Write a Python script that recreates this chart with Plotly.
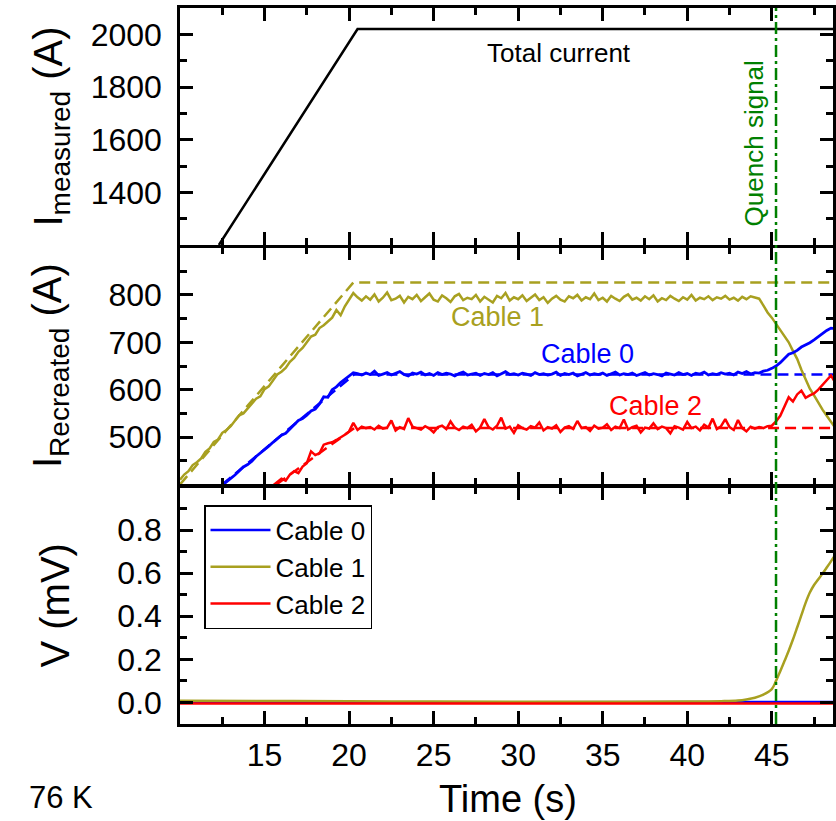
import plotly.graph_objects as go
from plotly.subplots import make_subplots

# ---------------- data ----------------
# total measured current (top panel)
t_total = [12.3, 20.5, 48.75]
i_total = [1200, 2020, 2020]

# common time base of recreated currents (s), 0.25 s sampling
t_rec = [round(10 + 0.25 * k, 2) for k in range(156)]

cable1_rec = [
    410, 421, 428, 441, 447, 455, 469, 476, 490, 495, 509, 515, 523, 535, 546, 550,
    560, 571, 581, 586, 601, 607, 620, 632, 638, 646, 659, 667, 680, 688, 700, 712,
    716, 730, 736, 745, 752, 768, 757, 776, 790, 804,
    795, 788, 797, 790, 801, 786, 794, 805, 789, 792, 798, 784, 796, 791, 800, 787,
    795, 803, 790, 786, 799, 793, 785, 797, 802, 789, 794, 791, 800, 786, 796, 790,
    784, 798, 793, 804, 788, 795, 791, 799, 787, 794, 801, 789, 795, 783, 792, 798,
    790, 786, 797, 793, 800, 788, 795, 791, 803, 789, 794, 786, 798, 792, 787, 796,
    801, 790, 794, 788, 797, 791, 799, 786, 793, 789, 798, 792, 787, 795, 790, 800,
    788, 794, 791, 797, 789, 795, 792, 798, 790, 794, 788, 796, 791, 797, 795,
    792, 778, 763, 752, 739, 728, 714, 700, 682, 665, 642, 620, 602, 588, 572, 558,
    545, 532, 520,
]

cable0_rec = [
    322, 330, 337, 345, 354, 360, 369, 377, 384, 391, 399, 406, 413, 420, 428, 437,
    442, 449, 459, 466, 472, 481, 489, 497, 504, 508, 518, 526, 535, 539, 546, 555,
    559, 570, 585, 584, 600, 606, 615, 622, 630, 636,
    634, 631, 635, 632, 639, 630, 633, 636, 631, 634, 638, 632, 629, 635, 633, 637,
    631, 634, 630, 636, 632, 635, 633, 629, 634, 637, 631, 633, 635, 630, 634, 632,
    636, 629, 633, 638, 632, 634, 631, 635, 633, 630, 636, 632, 634, 631, 633, 637,
    630, 634, 632, 635, 629, 633, 636, 631, 634, 632, 635, 630, 633, 637, 631, 634,
    632, 635, 630, 633, 636, 631, 634, 632, 629, 635, 633, 631, 636, 632, 634, 630,
    635, 633, 637, 631, 634, 632, 636, 633, 635, 631, 637, 634, 638, 633, 636,
    635, 639, 641, 645, 650, 657, 666, 675, 678, 683, 690, 694, 699, 705, 712, 718,
    725, 730, 729,
]

cable2_rec = [
    250, 257, 264, 270, 277, 284, 290, 297, 304, 311, 317, 324, 331, 338, 344, 351,
    358, 365, 371, 378, 385, 392, 398, 405, 412, 408, 421, 428, 424, 438, 445, 470,
    462, 466, 484, 487, 489, 494, 499, 505, 512, 530,
    515, 522, 519, 521, 516, 524, 518, 520, 535, 514, 521, 517, 540, 522, 519, 516,
    523, 518, 510, 521, 524, 517, 533, 520, 515, 522, 519, 526, 512, 520, 538, 521,
    516, 524, 541, 518, 522, 509, 525, 519, 516, 523, 520, 531, 514, 521, 518, 525,
    511, 520, 523, 517, 534, 519, 521, 513, 524, 518, 520, 527, 515, 522, 519, 537,
    516, 521, 524, 510, 520, 518, 529, 517, 522, 519, 508, 523, 520, 516, 532, 519,
    522, 514, 526, 520, 539, 517, 523, 538, 521, 515, 536, 519, 512, 522, 518,
    521, 519, 523, 524, 533, 545, 565, 584, 575, 590, 598, 583, 588, 592, 600, 610,
    620, 630, 615,
]

# predicted (dashed) currents
t_pred1 = [10.0, 20.25, 48.75]
cable1_pred = [400, 826, 826]
t_pred0 = [12.5, 20.3, 48.75]
cable0_pred = [400, 632, 632]
t_pred2 = [15.7, 20.3, 48.75]
cable2_pred = [400, 519, 519]

# voltages (bottom panel)
t_v = [10, 15, 20, 25, 30, 35, 40, 42, 43, 43.5, 44, 44.5, 45, 45.25, 45.5, 45.75,
       46, 46.25, 46.5, 46.75, 47, 47.25, 47.5, 47.75, 48, 48.25, 48.5, 48.75]
v_cable0 = [0.001, 0.001, 0.001, 0.000, 0.000, 0.000, 0.001, 0.001, 0.001, 0.001,
            0.002, 0.002, 0.002, 0.002, 0.002, 0.002, 0.002, 0.002, 0.002, 0.002,
            0.002, 0.002, 0.002, 0.002, 0.002, 0.002, 0.002, 0.002]
v_cable1 = [0.008, 0.007, 0.006, 0.004, 0.003, 0.003, 0.004, 0.006, 0.009, 0.014,
            0.022, 0.036, 0.062, 0.100, 0.145, 0.192, 0.240, 0.292, 0.348, 0.405,
            0.462, 0.510, 0.545, 0.572, 0.598, 0.626, 0.655, 0.685]
v_cable2 = [-0.005, -0.005, -0.005, -0.006, -0.005, -0.005, -0.005, -0.005, -0.005,
            -0.005, -0.005, -0.005, -0.005, -0.005, -0.005, -0.005, -0.005, -0.005,
            -0.005, -0.005, -0.005, -0.005, -0.005, -0.005, -0.005, -0.005, -0.005,
            -0.005]

t_quench = 45.25

x_ticks = [15, 20, 25, 30, 35, 40, 45]
x_minor = [10, 12.5, 17.5, 22.5, 27.5, 32.5, 37.5, 42.5, 47.5]
y1_ticks = [1400, 1600, 1800, 2000]
y1_minor = [1300, 1500, 1700, 1900]
y2_ticks = [500, 600, 700, 800]
y2_minor = [450, 550, 650, 750, 850]
y3_ticks = [0.0, 0.2, 0.4, 0.6, 0.8]
y3_minor = [0.1, 0.3, 0.5, 0.7, 0.9]

# ---------------- styles ----------------
BLUE = "#0000FF"
OLIVE = "#A8A020"
RED = "#FF0000"
GREEN = "#008000"
FONT = "Liberation Sans, Arial, sans-serif"
LW = 2.5
PLOT_H = 821 - 8 - 97

fig = make_subplots(rows=3, cols=1, shared_xaxes=True, vertical_spacing=LW / PLOT_H)

fig.add_trace(go.Scatter(x=t_total, y=i_total, mode="lines",
                         line=dict(color="black", width=2.5), showlegend=False),
              row=1, col=1)

dash = "11px,6px"
fig.add_trace(go.Scatter(x=t_pred1, y=cable1_pred, mode="lines",
                         line=dict(color=OLIVE, width=2.5, dash=dash), showlegend=False), row=2, col=1)
fig.add_trace(go.Scatter(x=t_pred0, y=cable0_pred, mode="lines",
                         line=dict(color=BLUE, width=2.5, dash=dash), showlegend=False), row=2, col=1)
fig.add_trace(go.Scatter(x=t_pred2, y=cable2_pred, mode="lines",
                         line=dict(color=RED, width=2.5, dash=dash), showlegend=False), row=2, col=1)
fig.add_trace(go.Scatter(x=t_rec, y=cable1_rec, mode="lines",
                         line=dict(color=OLIVE, width=2.5), showlegend=False), row=2, col=1)
fig.add_trace(go.Scatter(x=t_rec, y=cable0_rec, mode="lines",
                         line=dict(color=BLUE, width=2.8), showlegend=False), row=2, col=1)
fig.add_trace(go.Scatter(x=t_rec, y=cable2_rec, mode="lines",
                         line=dict(color=RED, width=2.5), showlegend=False), row=2, col=1)

fig.add_trace(go.Scatter(x=t_v, y=v_cable0, mode="lines", name="Cable 0",
                         line=dict(color=BLUE, width=2.5)), row=3, col=1)
fig.add_trace(go.Scatter(x=t_v, y=v_cable1, mode="lines", name="Cable 1",
                         line=dict(color=OLIVE, width=2.5, shape="spline")), row=3, col=1)
fig.add_trace(go.Scatter(x=t_v, y=v_cable2, mode="lines", name="Cable 2",
                         line=dict(color=RED, width=2.5)), row=3, col=1)

axis_common = dict(showline=True, linecolor="black", linewidth=LW, mirror="ticks",
                   ticks="inside", ticklen=13, tickwidth=2.5, tickcolor="black",
                   showgrid=False, zeroline=False, automargin=False,
                   tickfont=dict(family=FONT, size=32, color="black"))
minor_common = dict(ticks="inside", ticklen=7, tickwidth=2.5, tickcolor="black", showgrid=False)

for r in (1, 2, 3):
    fig.update_xaxes(range=[10, 48.62], tickmode="array", tickvals=x_ticks,
                     minor=dict(tickmode="array", tickvals=x_minor, **minor_common),
                     ticklabelstandoff=1, row=r, col=1, **axis_common)

fig.update_yaxes(range=[1200, 2100], tickmode="array", tickvals=y1_ticks,
                 minor=dict(tickmode="array", tickvals=y1_minor, **minor_common),
                 ticklabelstandoff=9, row=1, col=1, **axis_common)
fig.update_yaxes(range=[400, 900], tickmode="array", tickvals=y2_ticks,
                 minor=dict(tickmode="array", tickvals=y2_minor, **minor_common),
                 ticklabelstandoff=9, row=2, col=1, **axis_common)
fig.update_yaxes(range=[-0.1, 1.0], tickmode="array", tickvals=y3_ticks, tickformat=".1f",
                 minor=dict(tickmode="array", tickvals=y3_minor, **minor_common),
                 ticklabelstandoff=9, row=3, col=1, **axis_common)

# quench signal line through all panels
fig.add_shape(type="line", xref="x3", yref="paper", x0=t_quench, x1=t_quench, y0=0, y1=1,
              line=dict(color=GREEN, width=2.5, dash="12px,4px,3px,4px"), layer="above")

ann = []
ytitle_x = (50 - 180) / 653
ann.append(dict(text="I<sub>measured</sub> (A)", xref="paper", yref="y domain", x=ytitle_x, y=0.5,
                textangle=-90, showarrow=False, xanchor="center", yanchor="middle",
                font=dict(family=FONT, size=40, color="black")))
ann.append(dict(text="I<sub>Recreated</sub> (A)", xref="paper", yref="y2 domain", x=ytitle_x, y=0.5,
                textangle=-90, showarrow=False, xanchor="center", yanchor="middle",
                font=dict(family=FONT, size=40, color="black")))
ann.append(dict(text="V (mV)", xref="paper", yref="y3 domain", x=(54 - 180) / 653, y=0.5,
                textangle=-90, showarrow=False, xanchor="center", yanchor="middle",
                font=dict(family=FONT, size=40, color="black")))
ann.append(dict(text="Time (s)", xref="paper", yref="paper", x=(508 - 180) / 653, y=(724 - 799) / PLOT_H,
                showarrow=False, xanchor="center", yanchor="middle",
                font=dict(family=FONT, size=38, color="black")))
ann.append(dict(text="76 K", xref="paper", yref="paper", x=(27 - 180) / 653, y=(724 - 797) / PLOT_H,
                showarrow=False, xanchor="left", yanchor="middle",
                font=dict(family=FONT, size=31, color="black")))
ann.append(dict(text="Total current", xref="x", yref="y", x=32.4, y=1931,
                showarrow=False, xanchor="center", yanchor="middle",
                font=dict(family=FONT, size=26, color="black")))
ann.append(dict(text="Quench signal", xref="x", yref="y", x=43.95, y=1586, textangle=-90,
                showarrow=False, xanchor="center", yanchor="middle",
                font=dict(family=FONT, size=26, color=GREEN)))
ann.append(dict(text="Cable 1", xref="x2", yref="y2", x=28.8, y=754,
                showarrow=False, xanchor="center", yanchor="middle",
                font=dict(family=FONT, size=27, color=OLIVE)))
ann.append(dict(text="Cable 0", xref="x2", yref="y2", x=34.1, y=676,
                showarrow=False, xanchor="center", yanchor="middle",
                font=dict(family=FONT, size=27, color=BLUE)))
ann.append(dict(text="Cable 2", xref="x2", yref="y2", x=38.1, y=565,
                showarrow=False, xanchor="center", yanchor="middle",
                font=dict(family=FONT, size=27, color=RED)))

fig.update_layout(
    width=836, height=821,
    margin=dict(l=180, r=3, t=8, b=97),
    paper_bgcolor="white", plot_bgcolor="white",
    annotations=ann,
    showlegend=True,
    legend=dict(x=(204 - 180) / 653, y=(724 - 505) / PLOT_H, xanchor="left", yanchor="top",
                bgcolor="white", bordercolor="black", borderwidth=1.5,
                font=dict(family=FONT, size=26, color="black"),
                itemwidth=60, tracegroupgap=0),
)

fig.write_html("out.html")
